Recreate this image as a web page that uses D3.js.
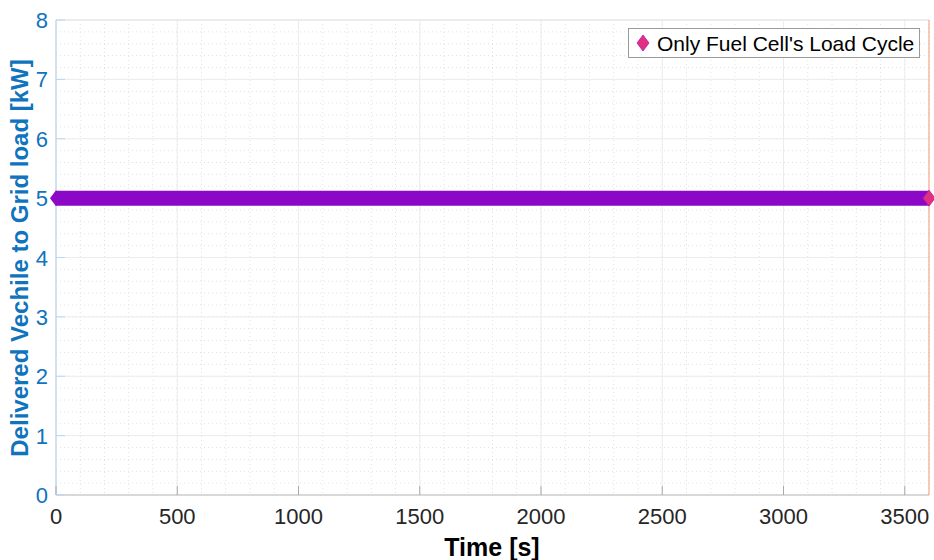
<!DOCTYPE html>
<html><head><meta charset="utf-8">
<script src="https://cdn.jsdelivr.net/npm/d3@7"></script>
<style>body{margin:0;background:#fff;font-family:"Liberation Sans",Arial,Helvetica,sans-serif;}</style>
</head><body>
<svg id="c" width="934" height="560"></svg>
<script>
const times = [0, 3600];
const loadKW = [5, 5];
const xTicks = [0, 500, 1000, 1500, 2000, 2500, 3000, 3500];
const yTicks = [0, 1, 2, 3, 4, 5, 6, 7, 8];
const seriesName = "Only Fuel Cell's Load Cycle";

const svg = d3.select("#c");
const m = {l: 56, r: 929, t: 20, b: 495};
const x = d3.scaleLinear().domain([0, 3600]).range([m.l, m.r]);
const y = d3.scaleLinear().domain([0, 8]).range([m.b, m.t]);

// minor grid
const g = svg.append("g");
g.selectAll(".mx").data(d3.range(0, 3601, 100)).join("line")
  .attr("x1", d => x(d)).attr("x2", d => x(d)).attr("y1", m.t).attr("y2", m.b)
  .attr("stroke", "#e2e2e2").attr("stroke-width", 1).attr("stroke-dasharray", "1,3");
g.selectAll(".my").data(d3.range(0, 8.01, 0.2)).join("line")
  .attr("y1", d => y(d)).attr("y2", d => y(d)).attr("x1", m.l).attr("x2", m.r)
  .attr("stroke", "#e2e2e2").attr("stroke-width", 1).attr("stroke-dasharray", "1,3");
// major grid
g.selectAll(".gx").data(xTicks).join("line")
  .attr("x1", d => x(d)).attr("x2", d => x(d)).attr("y1", m.t).attr("y2", m.b)
  .attr("stroke", "#ececec").attr("stroke-width", 1);
g.selectAll(".gy").data(yTicks).join("line")
  .attr("y1", d => y(d)).attr("y2", d => y(d)).attr("x1", m.l).attr("x2", m.r)
  .attr("stroke", "#ececec").attr("stroke-width", 1);

// axes lines
svg.append("line").attr("x1", m.l).attr("x2", m.r).attr("y1", m.t).attr("y2", m.t).attr("stroke", "#e4e4e4");
svg.append("line").attr("x1", m.l).attr("x2", m.r).attr("y1", m.b).attr("y2", m.b).attr("stroke", "#bdbdbd").attr("stroke-width", 1.2);
svg.append("line").attr("x1", m.l).attr("x2", m.l).attr("y1", m.t).attr("y2", m.b).attr("stroke", "#b9d7ef").attr("stroke-width", 1.2);
svg.append("line").attr("x1", m.r).attr("x2", m.r).attr("y1", m.t).attr("y2", m.b).attr("stroke", "#f3a98a").attr("stroke-width", 1.2);

// ticks
svg.selectAll(".xt").data(xTicks).join("line")
  .attr("x1", d => x(d)).attr("x2", d => x(d)).attr("y1", m.b).attr("y2", m.b - 9)
  .attr("stroke", "#aaaaaa").attr("stroke-width", 1);
svg.selectAll(".yt").data(yTicks).join("line")
  .attr("y1", d => y(d)).attr("y2", d => y(d)).attr("x1", m.l).attr("x2", m.l + 9)
  .attr("stroke", "#b9d7ef").attr("stroke-width", 1);

svg.selectAll(".xl").data(xTicks).join("text")
  .attr("x", d => x(d)).attr("y", m.b + 29).attr("text-anchor", "middle")
  .attr("font-size", 22).attr("fill", "#262626").text(d => d);
svg.selectAll(".yl").data(yTicks).join("text")
  .attr("x", m.l - 8).attr("y", d => y(d) + 8).attr("text-anchor", "end")
  .attr("font-size", 22).attr("fill", "#0f73be").text(d => d);

svg.append("text").attr("x", 492).attr("y", 556).attr("text-anchor", "middle")
  .attr("font-size", 25).attr("font-weight", "bold").attr("fill", "#000").text("Time [s]");
svg.append("text").attr("transform", `translate(28,258) rotate(-90)`)
  .attr("text-anchor", "middle").attr("font-size", 24).attr("font-weight", "bold")
  .attr("fill", "#0f73be").text("Delivered Vechile to Grid load [kW]");

// series
const pts = times.map((t, i) => [t, loadKW[i]]);
svg.append("path").datum(pts)
  .attr("d", d3.line().x(d => x(d[0])).y(d => y(d[1])))
  .attr("stroke", "#8a08c6").attr("stroke-width", 15).attr("fill", "none");
const diamond = (cx, cy, w, h) => `M${cx - w},${cy}L${cx},${cy - h}L${cx + w},${cy}L${cx},${cy + h}Z`;
svg.append("path").attr("d", diamond(x(pts[0][0]), y(pts[0][1]), 6, 8)).attr("fill", "#8a08c6");
svg.append("path").attr("d", diamond(x(pts[pts.length - 1][0]), y(pts[pts.length - 1][1]), 6, 8))
  .attr("fill", "#e0307f").attr("stroke", "#b01ab8").attr("stroke-width", 0.8);

// legend
svg.append("rect").attr("x", 628.5).attr("y", 28.5).attr("width", 291).attr("height", 29)
  .attr("fill", "#fff").attr("stroke", "#9a9a9a").attr("stroke-width", 1);
svg.append("path").attr("d", diamond(643, 43, 6, 8)).attr("fill", "#e0307f").attr("stroke", "#b01ab8").attr("stroke-width", 0.8);
svg.append("text").attr("x", 657).attr("y", 51).attr("font-size", 21).attr("fill", "#000").text(seriesName);
</script>
</body></html>
